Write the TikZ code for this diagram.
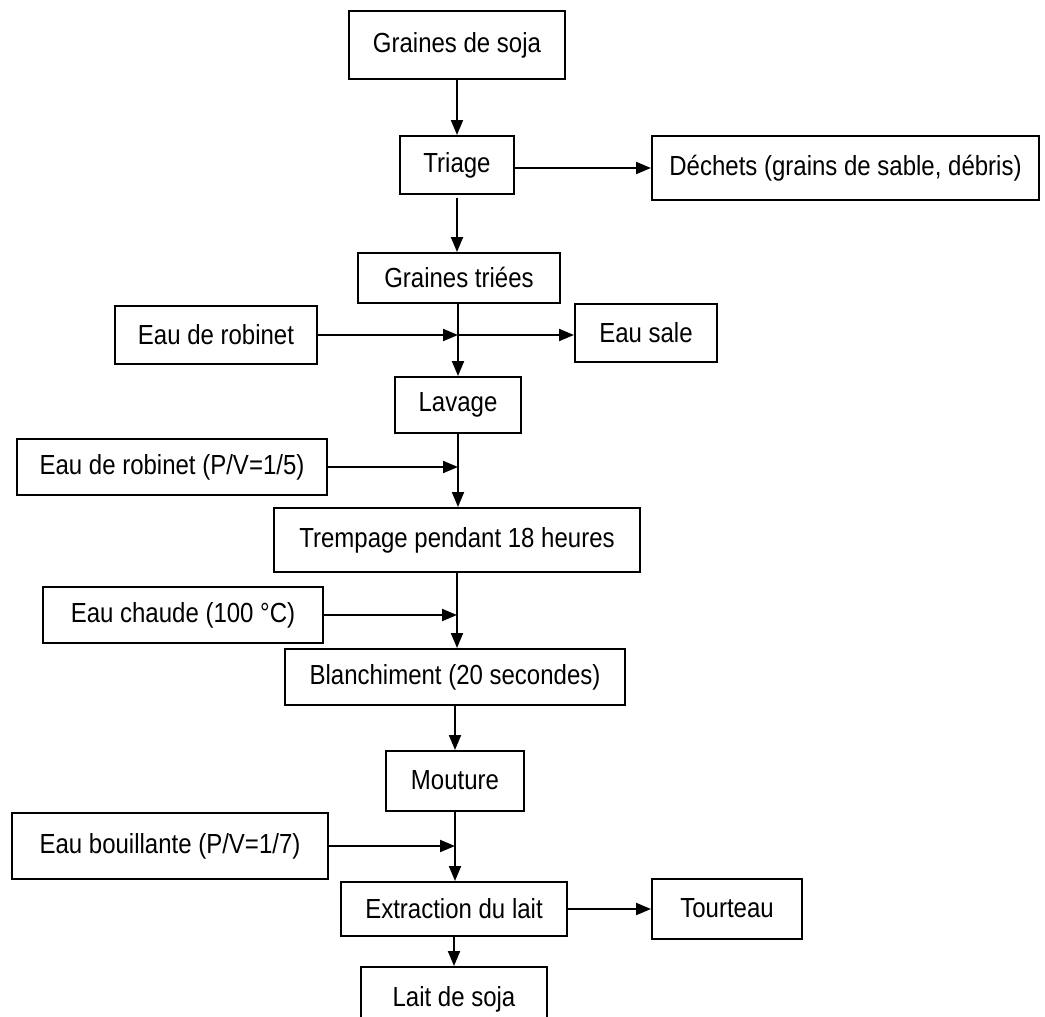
\documentclass[tikz,border=0pt]{standalone}
\usepackage{fontspec}
\setmainfont{Liberation Sans}
\usetikzlibrary{arrows.meta}
\tikzset{
  box/.style={draw=black, line width=2pt, inner sep=0pt, anchor=center,
    font=\fontsize{24}{28}\selectfont},
  arr/.style={line width=2pt, -{Triangle[length=15pt,width=12pt]}},
}
\newcommand{\bx}[6]{% name, x1, y1, x2, y2, text
  \pgfmathsetmacro{\cxx}{(#2+#4)/2}\pgfmathsetmacro{\cyy}{(#3+#5)/2}%
  \pgfmathsetmacro{\ww}{#4-#2}\pgfmathsetmacro{\hh}{#5-#3}%
  \node[box, minimum width=\ww pt, minimum height=\hh pt] (#1) at (\cxx,\cyy) {\raisebox{2pt}{\scalebox{1}[1.15]{#6}}};}
\begin{document}
\begin{tikzpicture}[x=1pt,y=-1pt]
\useasboundingbox (0,0) rectangle (1045,1017);
\bx{soja}{349}{11}{565}{79}{Graines de soja}
\bx{triage}{400}{136}{514}{194}{Triage}
\bx{dechets}{652}{136}{1039}{200}{Déchets (grains de sable, débris)}
\bx{triees}{358}{253}{560}{303}{Graines triées}
\bx{robinet}{115}{306}{317}{364}{Eau de robinet}
\bx{sale}{575}{304}{717}{362}{Eau sale}
\bx{lavage}{395}{377}{521}{433}{Lavage}
\bx{robinetb}{17}{439}{327}{495}{Eau de robinet (P/V=1/5)}
\bx{trempage}{274}{508}{640}{572}{Trempage pendant 18 heures}
\bx{chaude}{43}{587}{323}{643}{Eau chaude (100 °C)}
\bx{blanch}{285}{649}{625}{705}{Blanchiment (20 secondes)}
\bx{mouture}{386}{751}{524}{811}{Mouture}
\bx{bouill}{12}{813}{328}{879}{Eau bouillante (P/V=1/7)}
\bx{extraction}{341}{882}{567}{936}{Extraction du lait}
\bx{tourteau}{652}{879}{802}{939}{Tourteau}
\bx{lait}{361}{967}{547}{1031}{Lait de soja}
% main flow
\draw[arr] (soja.south) -- (soja.south |- triage.north);
\draw[arr] (triage.east |- dechets.west) -- (dechets.west);
\draw[arr] ([yshift=-3pt]triage.south) -- (triage.south |- triees.north);
\draw[arr] (triees.south -| lavage.north) -- (lavage.north);
\coordinate (j1) at (robinet.east -| lavage.north);
\draw[arr] (robinet.east) -- (j1);
\draw[arr] (j1) -- (robinet.east -| sale.west);
\draw[arr] (lavage.south) -- (lavage.south |- trempage.north);
\coordinate (j2) at (robinetb.east -| lavage.south);
\draw[arr] (robinetb.east) -- (j2);
\draw[arr] (trempage.south) -- (trempage.south |- blanch.north);
\coordinate (j3) at (chaude.east -| trempage.south);
\draw[arr] (chaude.east) -- (j3);
\draw[arr] (blanch.south -| mouture.north) -- (mouture.north);
\draw[arr] (mouture.south) -- (mouture.south |- extraction.north);
\coordinate (j4) at (bouill.east -| mouture.south);
\draw[arr] (bouill.east) -- (j4);
\draw[arr] (extraction.east) -- (extraction.east -| tourteau.west);
\draw[arr] (extraction.south -| lait.north) -- (lait.north);
\end{tikzpicture}
\end{document}
